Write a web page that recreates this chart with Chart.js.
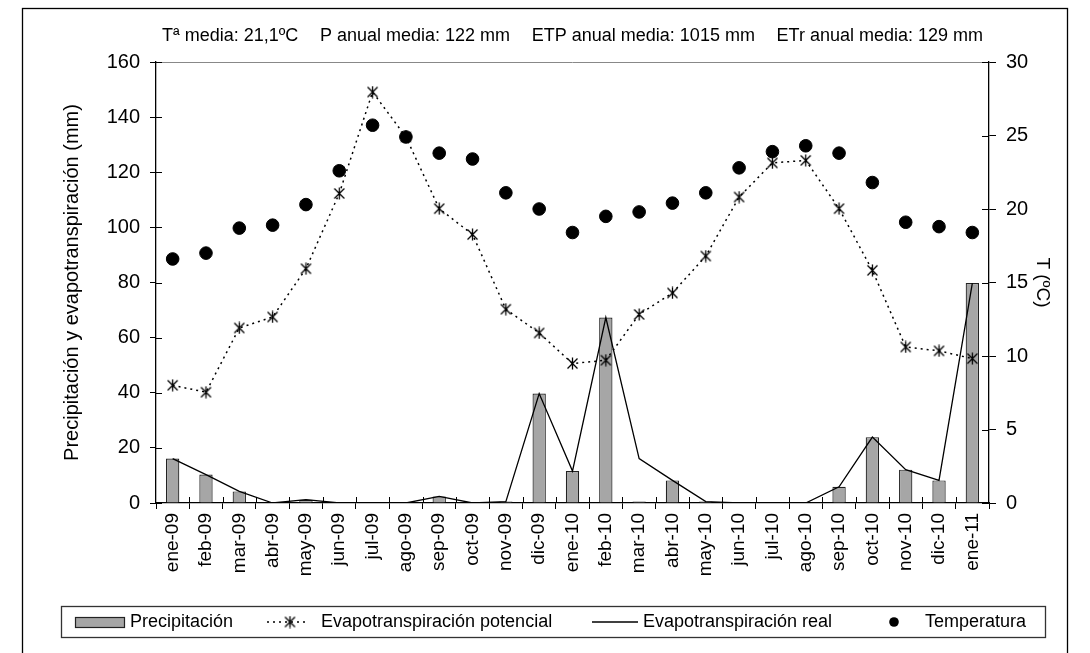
<!DOCTYPE html>
<html>
<head>
<meta charset="utf-8">
<script src="https://cdn.jsdelivr.net/npm/chart.js@4.4.1/dist/chart.umd.min.js"></script>
<style>
  body { margin: 0; background: #fff; }
  #wrap { width: 1090px; height: 653px; }
</style>
</head>
<body>
<div id="wrap"><canvas id="balance-chart" width="1090" height="653"></canvas></div>
<script>
const months = ['ene-09', 'feb-09', 'mar-09', 'abr-09', 'may-09', 'jun-09', 'jul-09', 'ago-09', 'sep-09', 'oct-09', 'nov-09', 'dic-09',
  'ene-10', 'feb-10', 'mar-10', 'abr-10', 'may-10', 'jun-10', 'jul-10', 'ago-10', 'sep-10', 'oct-10', 'nov-10', 'dic-10', 'ene-11'];
const precipitacion = [16.1, 10.3, 4.2, 0.2, 1.2, 0, 0, 0, 2.4, 0, 0.5, 39.7,
  11.6, 67.3, 0.5, 8.2, 0.5, 0, 0, 0, 5.9, 23.9, 12.1, 8.2, 79.8];
const etp = [42.7, 40.2, 63.5, 67.5, 85.0, 112.3, 149.1, 132.8, 106.8, 97.4, 70.3, 61.7,
  50.6, 51.8, 68.4, 76.2, 89.6, 111.0, 123.4, 124.3, 106.8, 84.4, 56.6, 55.2, 52.4];
const etr = [16.1, 10.3, 4.2, 0, 1.2, 0, 0, 0, 2.4, 0, 0.5, 39.7,
  11.6, 67.3, 16.1, 8.2, 0.5, 0, 0, 0, 5.9, 23.9, 12.1, 8.2, 79.8];
const temperatura = [16.6, 17.0, 18.7, 18.9, 20.3, 22.6, 25.7, 24.9, 23.8, 23.4, 21.1, 20.0,
  18.4, 19.5, 19.8, 20.4, 21.1, 22.8, 23.9, 24.3, 23.8, 21.8, 19.1, 18.8, 18.4];
const resumen = ['Tª media: 21,1ºC', 'P anual media: 122 mm', 'ETP anual media: 1015 mm', 'ETr anual media: 129 mm'];

const FONT = '"Liberation Sans", Arial, sans-serif';

// asterisk marker used by Excel: an x with a vertical stroke
const asterisk = document.createElement('canvas');
asterisk.width = 13;
asterisk.height = 13;
(function () {
  const c = asterisk.getContext('2d');
  c.strokeStyle = '#000';
  c.lineWidth = 1.3;
  c.beginPath();
  c.moveTo(1.5, 1.5); c.lineTo(11.5, 11.5);
  c.moveTo(11.5, 1.5); c.lineTo(1.5, 11.5);
  c.moveTo(6.5, 0.5); c.lineTo(6.5, 12.5);
  c.stroke();
})();

const extras = {
  id: 'extras',
  afterDraw(chart) {
    const ctx = chart.ctx;
    const area = chart.chartArea;
    ctx.save();

    // outer frame
    ctx.strokeStyle = '#000';
    ctx.lineWidth = 1.3;
    ctx.strokeRect(22.5, 8.5, 1045, 700);

    // top edge of plot area
    ctx.strokeStyle = '#888';
    ctx.lineWidth = 1;
    ctx.beginPath();
    ctx.moveTo(area.left, Math.round(area.top) + 0.5);
    ctx.lineTo(area.right, Math.round(area.top) + 0.5);
    ctx.stroke();

    // inner half of the tick marks
    ctx.strokeStyle = '#000';
    ctx.lineWidth = 1;
    ctx.beginPath();
    const n = months.length;
    const step = (area.right - area.left) / n;
    for (let i = 1; i < n; i++) {
      const x = Math.round(area.left + i * step) + 0.5;
      ctx.moveTo(x, area.bottom);
      ctx.lineTo(x, area.bottom - 6);
    }
    chart.scales.y.ticks.forEach((t, i) => {
      const y = Math.round(chart.scales.y.getPixelForTick(i)) + 0.5;
      ctx.moveTo(area.left, y);
      ctx.lineTo(area.left + 6, y);
    });
    chart.scales.y1.ticks.forEach((t, i) => {
      const y = Math.round(chart.scales.y1.getPixelForTick(i)) + 0.5;
      ctx.moveTo(area.right, y);
      ctx.lineTo(area.right - 7, y);
    });
    ctx.stroke();

    // summary line on top, spread between x=162 and x=983
    ctx.fillStyle = '#000';
    ctx.font = '18px ' + FONT;
    ctx.textBaseline = 'middle';
    ctx.textAlign = 'left';
    const widths = resumen.map((s) => ctx.measureText(s).width);
    const gap = (983 - 162 - widths.reduce((a, b) => a + b, 0)) / (resumen.length - 1);
    let x = 162;
    resumen.forEach((s, i) => {
      ctx.fillText(s, x, 36);
      x += widths[i] + gap;
    });

    // legend
    const ly = 622;
    ctx.strokeStyle = '#333';
    ctx.lineWidth = 1.3;
    ctx.strokeRect(61.5, 606.5, 984, 31);

    ctx.fillStyle = '#a6a6a6';
    ctx.fillRect(75, 617.5, 50, 10);
    ctx.strokeStyle = '#222';
    ctx.lineWidth = 1.2;
    ctx.strokeRect(75.5, 617.5, 49, 10);

    ctx.strokeStyle = '#000';
    ctx.lineWidth = 1.5;
    ctx.setLineDash([2, 4]);
    ctx.beginPath();
    ctx.moveTo(267, ly); ctx.lineTo(308, ly);
    ctx.stroke();
    ctx.setLineDash([]);
    ctx.drawImage(asterisk, 290 - 6.5, ly - 6.5);

    ctx.lineWidth = 1.3;
    ctx.beginPath();
    ctx.moveTo(592, ly); ctx.lineTo(638, ly);
    ctx.stroke();

    ctx.fillStyle = '#000';
    ctx.beginPath();
    ctx.arc(894, ly, 4.8, 0, Math.PI * 2);
    ctx.fill();

    ctx.font = '18px ' + FONT;
    ctx.fillText('Precipitación', 130, ly);
    ctx.fillText('Evapotranspiración potencial', 321, ly);
    ctx.fillText('Evapotranspiración real', 643, ly);
    ctx.fillText('Temperatura', 925, ly);

    ctx.restore();
  }
};

const ctx = document.getElementById('balance-chart').getContext('2d');

new Chart(ctx, {
  data: {
    labels: months,
    datasets: [
      {
        type: 'line',
        label: 'Temperatura',
        data: temperatura,
        yAxisID: 'y1',
        showLine: false,
        pointStyle: 'circle',
        pointRadius: 6.3,
        pointBackgroundColor: '#000',
        pointBorderColor: '#000',
        order: 1,
      },
      {
        type: 'line',
        label: 'Evapotranspiración potencial',
        data: etp,
        yAxisID: 'y',
        borderColor: '#000',
        borderWidth: 1.5,
        borderDash: [2, 4],
        pointStyle: asterisk,
        pointRadius: 6,
        tension: 0,
        order: 2,
      },
      {
        type: 'line',
        label: 'Evapotranspiración real',
        data: etr,
        yAxisID: 'y',
        borderColor: '#000',
        borderWidth: 1.3,
        pointRadius: 0,
        tension: 0,
        order: 3,
      },
      {
        type: 'bar',
        label: 'Precipitación',
        data: precipitacion,
        yAxisID: 'y',
        backgroundColor: '#a6a6a6',
        borderColor: '#222',
        borderWidth: 1.2,
        barPercentage: 0.4,
        categoryPercentage: 1,
        order: 5,
      },
    ],
  },
  options: {
    responsive: false,
    animation: false,
    layout: { padding: { top: 62, left: 0, right: 0, bottom: 0 } },
    plugins: {
      legend: { display: false },
      title: { display: false },
      tooltip: { enabled: false },
    },
    scales: {
      x: {
        offset: true,
        grid: { offset: true, drawOnChartArea: false, tickLength: 6, color: '#000' },
        border: { color: '#000', width: 1.3 },
        ticks: {
          autoSkip: false,
          minRotation: 90,
          maxRotation: 90,
          padding: 4,
          color: '#000',
          font: { family: FONT, size: 19 },
        },
        afterFit: (scale) => { scale.height = 150; },
      },
      y: {
        position: 'left',
        min: 0,
        max: 160,
        ticks: { stepSize: 20, padding: 10, color: '#000', font: { family: FONT, size: 20 } },
        grid: { drawOnChartArea: false, tickLength: 6, color: '#000' },
        border: { color: '#000', width: 1.3 },
        title: {
          display: true,
          text: 'Precipitación y evapotranspiración (mm)',
          color: '#000',
          font: { family: FONT, size: 20 },
          padding: { top: 60, bottom: 0 },
        },
        afterFit: (scale) => { scale.width = 156; },
      },
      y1: {
        position: 'right',
        min: 0,
        max: 30,
        ticks: { stepSize: 5, padding: 10, color: '#000', font: { family: FONT, size: 20 } },
        grid: { drawOnChartArea: false, tickLength: 7, color: '#000' },
        border: { color: '#000', width: 1.3 },
        title: {
          display: true,
          text: 'T (ºC)',
          color: '#000',
          font: { family: FONT, size: 19 },
          padding: { top: 36, bottom: 0 },
        },
        afterFit: (scale) => { scale.width = 101; },
      },
    },
  },
  plugins: [extras],
});
</script>
</body>
</html>
